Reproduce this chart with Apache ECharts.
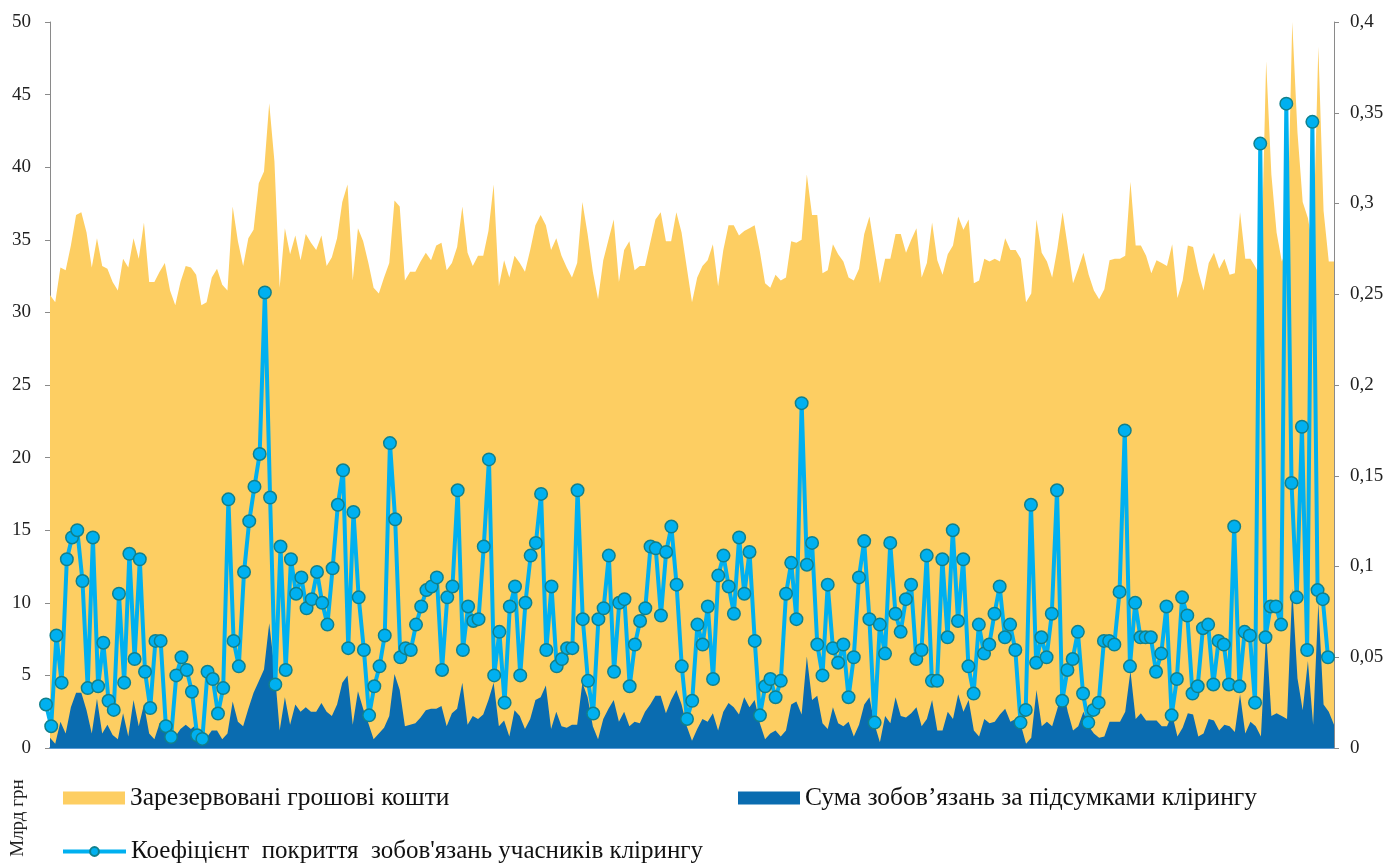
<!DOCTYPE html>
<html><head><meta charset="utf-8">
<script src="https://cdn.jsdelivr.net/npm/echarts/dist/echarts.min.js"></script>
<style>html,body{margin:0;padding:0;background:#fff}#c{width:1400px;height:866px}</style>
</head><body><div id="c"></div>
<script>
// Зарезервовані грошові кошти, млрд грн (left axis)
const reserved = [
31.2,30.7,33.1,32.9,34.6,36.7,36.9,35.5,33.1,35.1,
33.2,33.0,32.1,31.5,33.7,33.1,35.1,33.7,36.2,32.1,
32.1,32.8,33.4,31.5,30.5,32.1,33.2,33.1,32.6,30.5,
30.7,32.4,33.0,31.9,31.5,37.3,34.9,33.2,35.1,35.7,
38.9,39.7,44.4,40.4,31.7,35.8,34.0,35.3,33.6,35.4,
34.8,34.3,35.3,33.2,33.8,35.1,37.6,38.8,32.2,35.8,
34.9,33.4,31.7,31.3,32.4,33.4,37.7,37.3,32.2,32.8,
32.8,33.5,34.1,33.6,34.6,34.8,32.9,33.4,34.5,37.3,
34.1,33.2,33.9,33.9,35.6,38.8,31.8,33.6,32.4,33.9,
33.4,32.8,34.3,36.0,36.7,36.0,34.3,35.1,33.9,33.1,
32.4,33.4,37.6,35.4,32.8,30.9,33.6,35.0,36.4,32.1,
34.3,34.9,32.9,33.2,33.2,34.8,36.4,36.9,34.9,34.9,
36.9,35.5,33.1,30.7,32.4,33.2,33.6,34.7,31.8,34.3,
36.0,36.0,35.3,35.6,35.8,36.0,34.2,32.0,31.7,32.6,
32.2,32.4,34.9,34.8,35.0,39.5,36.7,36.7,32.7,32.9,
34.7,34.0,33.5,32.4,32.2,33.0,35.4,36.6,34.3,32.0,
33.7,33.7,35.4,35.4,34.1,35.0,35.8,32.4,33.4,36.2,
33.6,32.6,34.0,34.6,36.6,35.7,36.4,32.0,32.2,33.7,
33.5,33.7,33.5,35.1,34.3,34.3,33.7,30.7,31.3,36.4,
34.1,33.5,32.4,34.4,36.9,34.5,32.0,33.0,34.1,32.6,
31.5,30.9,31.6,33.6,33.7,33.7,33.9,39.0,34.6,34.6,
33.9,32.7,33.6,33.4,33.2,34.7,31.0,32.2,34.6,34.5,
32.8,31.5,33.4,34.1,33.0,33.7,32.6,32.7,36.9,33.7,
33.7,33.1,32.4,47.3,39.5,35.5,33.5,34.4,50.0,42.4,
37.6,36.5,34.4,48.3,37.0,33.5,33.5
];
// Сума зобов’язань за підсумками клірингу, млрд грн (left axis)
const obligations = [
0.7,0.3,1.8,1.0,2.8,3.8,3.8,2.6,1.0,3.4,
1.0,1.6,0.9,0.6,2.4,0.8,3.3,1.5,3.0,1.0,
0.6,1.7,1.3,0.3,0.8,1.3,1.6,1.3,1.6,0.3,
0.7,1.2,1.2,0.6,1.0,3.2,1.8,1.5,2.7,3.8,
4.6,5.4,8.6,5.5,1.2,3.5,1.6,3.0,2.5,2.8,
2.5,2.5,3.1,2.5,2.2,3.0,4.5,5.0,1.6,3.9,
2.7,1.7,0.6,1.0,1.4,2.2,5.1,4.0,1.5,1.6,
1.7,2.1,2.6,2.7,2.7,2.9,1.5,2.4,2.7,4.5,
1.6,2.2,2.0,2.3,3.3,4.5,1.5,1.9,0.8,2.6,
2.2,1.3,2.0,3.3,3.5,4.3,1.3,2.5,1.5,1.4,
1.6,1.6,4.5,3.5,1.5,0.6,2.0,2.7,3.3,1.8,
2.5,1.5,1.8,1.7,2.5,3.0,3.6,3.6,2.4,3.3,
4.0,3.0,1.5,0.5,1.3,2.0,1.8,2.4,1.2,2.5,
3.1,2.8,2.3,3.5,2.8,3.3,1.7,0.6,1.0,1.2,
0.8,1.2,3.0,3.2,2.3,6.3,3.3,3.6,1.7,1.3,
2.8,1.7,1.5,1.8,0.8,1.6,3.0,3.5,1.6,0.4,
2.2,1.7,3.5,2.2,2.1,2.4,2.8,1.5,2.0,3.3,
1.2,1.2,2.5,2.0,3.7,2.5,3.3,1.2,0.8,2.0,
1.7,1.8,2.3,2.7,1.8,2.0,1.6,0.3,0.7,4.0,
1.5,1.8,1.5,2.7,4.2,2.5,1.2,1.5,2.5,1.5,
1.0,0.7,0.8,1.8,1.8,1.8,2.5,5.3,2.0,2.4,
1.9,1.9,1.9,1.5,1.5,2.3,0.8,1.4,2.4,2.3,
0.8,1.0,2.0,1.9,1.2,1.6,1.5,1.1,3.7,1.0,
1.8,1.5,0.8,8.0,2.2,2.4,2.2,2.0,11.0,4.8,
2.6,6.0,1.6,10.0,3.0,2.5,1.6
];
// Коефіцієнт покриття зобов'язань учасників клірингу (right axis)
const coverage = [
0.024,0.012,0.062,0.036,0.104,0.116,0.12,0.092,0.033,0.116,
0.034,0.058,0.026,0.021,0.085,0.036,0.107,0.049,0.104,0.042,
0.022,0.059,0.059,0.012,0.006,0.04,0.05,0.043,0.031,0.007,
0.005,0.042,0.038,0.019,0.033,0.137,0.059,0.045,0.097,0.125,
0.144,0.162,0.251,0.138,0.035,0.111,0.043,0.104,0.085,0.094,
0.077,0.082,0.097,0.08,0.068,0.099,0.134,0.153,0.055,0.13,
0.083,0.054,0.018,0.034,0.045,0.062,0.168,0.126,0.05,0.055,
0.054,0.068,0.078,0.087,0.089,0.094,0.043,0.083,0.089,0.142,
0.054,0.078,0.07,0.071,0.111,0.159,0.04,0.064,0.025,0.078,
0.089,0.04,0.08,0.106,0.113,0.14,0.054,0.089,0.045,0.049,
0.055,0.055,0.142,0.071,0.037,0.019,0.071,0.077,0.106,0.042,
0.08,0.082,0.034,0.057,0.07,0.077,0.111,0.11,0.073,0.108,
0.122,0.09,0.045,0.016,0.026,0.068,0.057,0.078,0.038,0.095,
0.106,0.089,0.074,0.116,0.085,0.108,0.059,0.018,0.034,0.038,
0.028,0.037,0.085,0.102,0.071,0.19,0.101,0.113,0.057,0.04,
0.09,0.055,0.047,0.057,0.028,0.05,0.094,0.114,0.071,0.014,
0.068,0.052,0.113,0.074,0.064,0.082,0.09,0.049,0.054,0.106,
0.037,0.037,0.104,0.061,0.12,0.07,0.104,0.045,0.03,0.068,
0.052,0.057,0.074,0.089,0.061,0.068,0.054,0.014,0.021,0.134,
0.047,0.061,0.05,0.074,0.142,0.026,0.043,0.049,0.064,0.03,
0.014,0.021,0.025,0.059,0.059,0.057,0.086,0.175,0.045,0.08,
0.061,0.061,0.061,0.042,0.052,0.078,0.018,0.038,0.083,0.073,
0.03,0.034,0.066,0.068,0.035,0.059,0.057,0.035,0.122,0.034,
0.064,0.062,0.025,0.333,0.061,0.078,0.078,0.068,0.355,0.146,
0.083,0.177,0.054,0.345,0.087,0.082,0.05
];
const categories = reserved.map((_, i) => String(i + 1));
const leftMin = 0, leftMax = 50, leftStep = 5;
const rightMin = 0, rightMax = 0.4, rightStep = 0.05;
const unitLabel = 'Млрд грн';
const nameReserved = 'Зарезервовані грошові кошти';
const nameOblig = 'Сума зобов’язань за підсумками клірингу';
const nameCoef = "Коефіцієнт  покриття  зобов'язань учасників клірингу";

const FONT = "'Liberation Serif', 'Times New Roman', serif";
const YELLOW = '#FDCE62', DARK = '#0A6CB0', LIGHT = '#00B0F0', AXIS = '#8A8A8A';

const chart = echarts.init(document.getElementById('c'), null, {renderer: 'canvas'});
chart.setOption({
  animation: false,
  backgroundColor: '#ffffff',
  grid: [
    {left: 50, right: 66, top: 22, bottom: 118},
    {left: 46, right: 72, top: 22, bottom: 118}
  ],
  xAxis: [
    {type: 'category', gridIndex: 0, data: categories, boundaryGap: false,
     axisLine: {show: true, lineStyle: {color: '#5B9BD5', width: 2}},
     axisTick: {show: false}, axisLabel: {show: false}, splitLine: {show: false}},
    {type: 'category', gridIndex: 1, data: categories, boundaryGap: false, show: false}
  ],
  yAxis: [
    {type: 'value', gridIndex: 0, position: 'left', min: leftMin, max: leftMax, interval: leftStep,
     axisLine: {show: true, lineStyle: {color: AXIS, width: 1}},
     axisTick: {show: true, length: 5, lineStyle: {color: AXIS}},
     axisLabel: {margin: 19, color: '#222', fontFamily: FONT, fontSize: 19},
     splitLine: {show: false}},
    {type: 'value', gridIndex: 0, position: 'right', min: rightMin, max: rightMax, interval: rightStep,
     axisLine: {show: true, lineStyle: {color: AXIS, width: 1}},
     axisTick: {show: true, length: 5, lineStyle: {color: AXIS}},
     axisLabel: {margin: 16, color: '#222', fontFamily: FONT, fontSize: 19, align: 'left',
       formatter: v => v === 0 ? '0' : String(+v.toFixed(2)).replace('.', ',')},
     splitLine: {show: false}},
    {type: 'value', gridIndex: 1, min: rightMin, max: rightMax, interval: rightStep, show: false}
  ],
  legend: [
    {left: 58, top: 780, padding: 5, itemWidth: 62, itemHeight: 13, itemGap: 0,
     data: [{name: nameReserved, icon: 'rect'}],
     textStyle: {fontFamily: FONT, fontSize: 25.5, color: '#111'}},
    {left: 733, top: 780, padding: 5, itemWidth: 62, itemHeight: 13, itemGap: 0,
     data: [{name: nameOblig, icon: 'rect'}],
     textStyle: {fontFamily: FONT, fontSize: 25.5, color: '#111'}},
    {left: 56, top: 834, padding: 5, itemWidth: 63, itemHeight: 11, itemGap: 0,
     data: [{name: nameCoef}],
     lineStyle: {width: 4, color: LIGHT},
     textStyle: {fontFamily: FONT, fontSize: 25, color: '#111'}}
  ],
  graphic: [
    {type: 'text', x: 18, y: 818, rotation: Math.PI / 2,
     style: {text: unitLabel, font: "19px 'Liberation Serif'", fill: '#222',
             textAlign: 'center', textVerticalAlign: 'middle'}}
  ],
  series: [
    {name: nameReserved, type: 'line', xAxisIndex: 0, yAxisIndex: 0, data: reserved,
     showSymbol: false, symbol: 'none', z: 1,
     lineStyle: {width: 0, color: YELLOW}, itemStyle: {color: YELLOW},
     areaStyle: {color: YELLOW, opacity: 1}},
    {name: nameOblig, type: 'line', xAxisIndex: 0, yAxisIndex: 0, data: obligations,
     showSymbol: false, symbol: 'none', z: 2,
     lineStyle: {width: 0, color: DARK}, itemStyle: {color: DARK},
     areaStyle: {color: DARK, opacity: 1}},
    {name: nameCoef, type: 'line', xAxisIndex: 1, yAxisIndex: 2, data: coverage, z: 3,
     symbol: 'circle', symbolSize: 12.5, showSymbol: true, showAllSymbol: true,
     lineStyle: {width: 4, color: LIGHT},
     itemStyle: {color: LIGHT, borderColor: '#11808C', borderWidth: 1.5}}
  ]
});
</script></body></html>
